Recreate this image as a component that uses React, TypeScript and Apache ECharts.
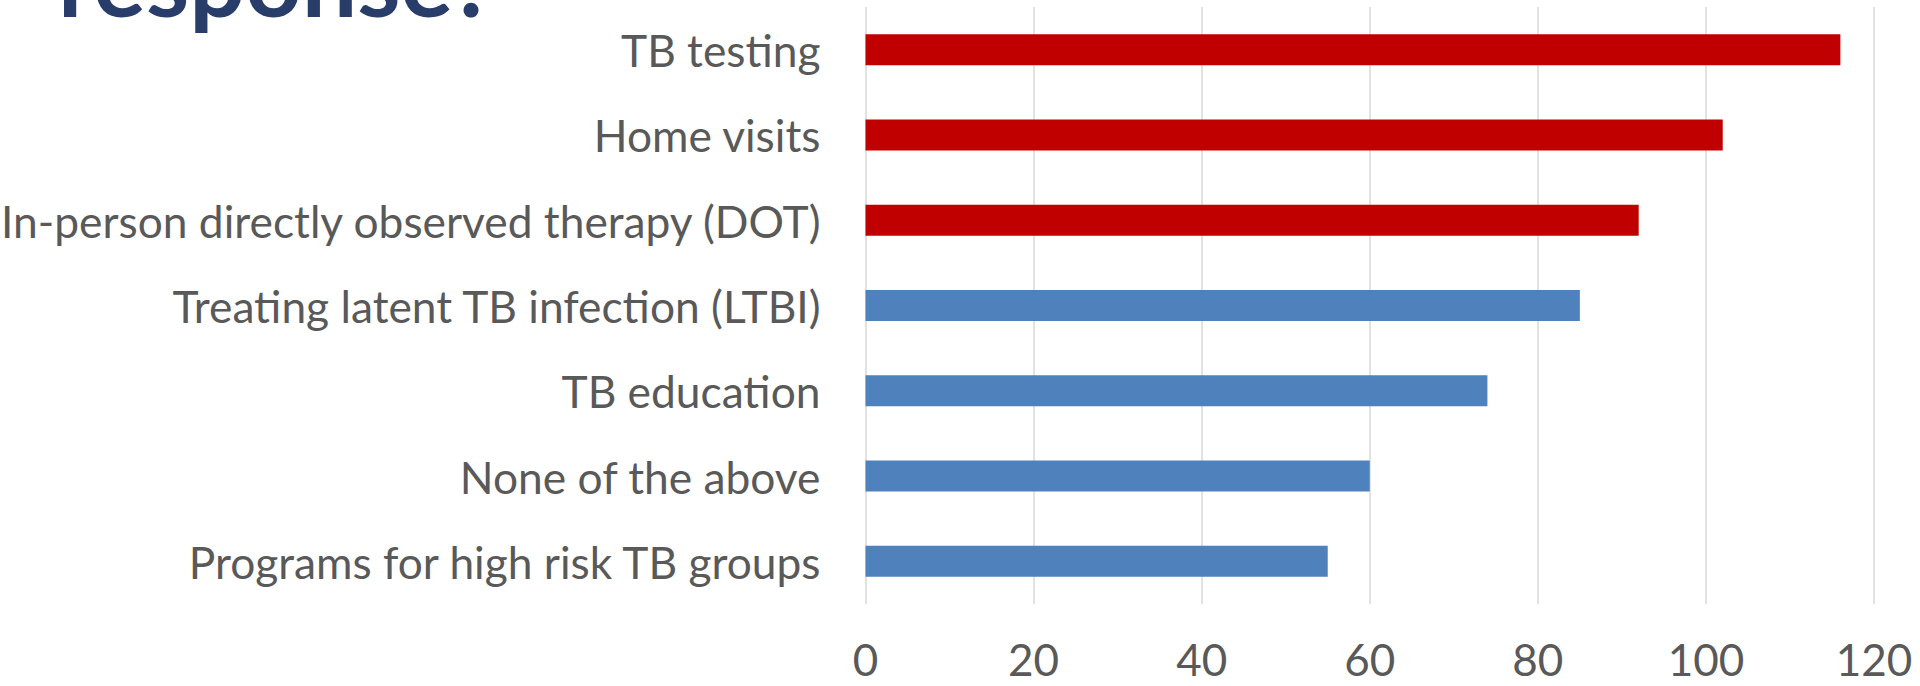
import React, { useEffect, useRef } from "react";
import * as echarts from "echarts";

const categories = [
  "TB testing",
  "Home visits",
  "In-person directly observed therapy (DOT)",
  "Treating latent TB infection (LTBI)",
  "TB education",
  "None of the above",
  "Programs for high risk TB groups",
];
const values = [116, 102, 92, 85, 74, 60, 55];
const highlighted = ["TB testing", "Home visits", "In-person directly observed therapy (DOT)"];
const xTicks = [0, 20, 40, 60, 80, 100, 120];
const titleText = "response?";

const RED = "#C00000";
const BLUE = "#4F81BD";
const FONT = "Lato, 'Noto Sans', sans-serif";

export default function App() {
  const ref = useRef<HTMLDivElement>(null);
  useEffect(() => {
    if (!ref.current) return;
    const chart = echarts.init(ref.current, undefined, { renderer: "svg" });
    chart.setOption({
      animation: false,
      backgroundColor: "#ffffff",
      grid: {
        left: 865.5,
        right: 46,
        top: 7,
        bottom: 82,
        containLabel: false,
        outerBoundsMode: "none",
      },
      xAxis: {
        type: "value",
        min: xTicks[0],
        max: xTicks[xTicks.length - 1],
        interval: xTicks[1] - xTicks[0],
        axisLine: { show: false },
        axisTick: { show: false },
        splitLine: { show: true, lineStyle: { color: "#d9d9d9", width: 1.5 } },
        axisLabel: {
          color: "#595959",
          fontSize: 44,
          lineHeight: 34,
          fontFamily: FONT,
          margin: 37.5,
        },
      },
      yAxis: {
        type: "category",
        inverse: true,
        data: categories,
        axisLine: { show: false },
        axisTick: { show: false },
        axisLabel: { color: "#595959", fontSize: 44.3, fontFamily: FONT, margin: 45 },
      },
      series: [
        {
          type: "bar",
          barWidth: 31,
          data: values.map((v, i) => ({
            value: v,
            itemStyle: { color: highlighted.includes(categories[i]) ? RED : BLUE },
          })),
        },
      ],
      graphic: [
        {
          type: "text",
          left: 58,
          top: -71,
          style: {
            text: titleText,
            fill: "#293D6B",
            font: `bold 98.5px ${FONT}`,
          },
        },
      ],
    });
    return () => chart.dispose();
  }, []);
  return (
    <div
      ref={ref}
      style={{ position: "absolute", left: 0, top: 0, width: 1920, height: 686 }}
    />
  );
}
